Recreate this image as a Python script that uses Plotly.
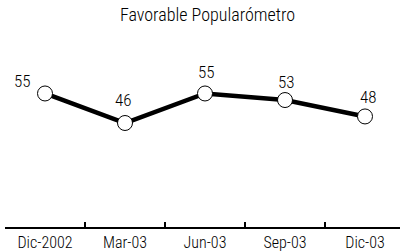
import plotly.graph_objects as go

categories = ["Dic-2002", "Mar-03", "Jun-03", "Sep-03", "Dic-03"]
values = [55, 46, 55, 53, 48]
title = "Favorable Popularómetro"

# label offsets in pixels (style only)
label_dx = [-23, -2, 1, 1, 3]
label_dy = [12, 23, 21, 18, 19]

FONT = "Roboto Condensed"
W = 350

fig = go.Figure()
fig.add_trace(go.Scatter(
    x=categories, y=values,
    mode="lines+markers",
    line=dict(color="black", width=4.5),
    marker=dict(size=15, color="white", line=dict(color="black", width=1)),
    cliponaxis=False,
    showlegend=False,
    hoverinfo="skip",
))

for c, v, dx, dy in zip(categories, values, label_dx, label_dy):
    fig.add_annotation(x=c, y=v, text=str(v), showarrow=False,
                       xshift=dx, yshift=dy, xanchor="center", yanchor="middle",
                       font=dict(family=FONT, size=17, color="black", weight=W))

fig.update_layout(
    width=400, height=251,
    margin=dict(l=5, r=0, t=40, b=24, autoexpand=False),
    paper_bgcolor="white", plot_bgcolor="white",
    title=dict(text=title, x=207.5 / 400, xref="container", xanchor="center",
               y=1 - 15 / 251, yref="container", yanchor="middle",
               font=dict(family=FONT, size=18, color="black", weight=W)),
    font=dict(family=FONT, color="black"),
)
fig.update_xaxes(
    type="category", range=[-0.5, 4.4375], automargin=False,
    showline=True, linecolor="black", linewidth=1.5,
    tickson="boundaries", ticks="inside", ticklen=5, tickcolor="black", tickwidth=1.5,
    tickfont=dict(family=FONT, size=16, color="black", weight=W),
    showgrid=False, zeroline=False,
)
fig.update_yaxes(range=[14.3, 71.3], visible=False, showgrid=False, automargin=False)

fig.write_html("out.html", config={"displayModeBar": False},
               post_script="document.body.style.margin='0';")
